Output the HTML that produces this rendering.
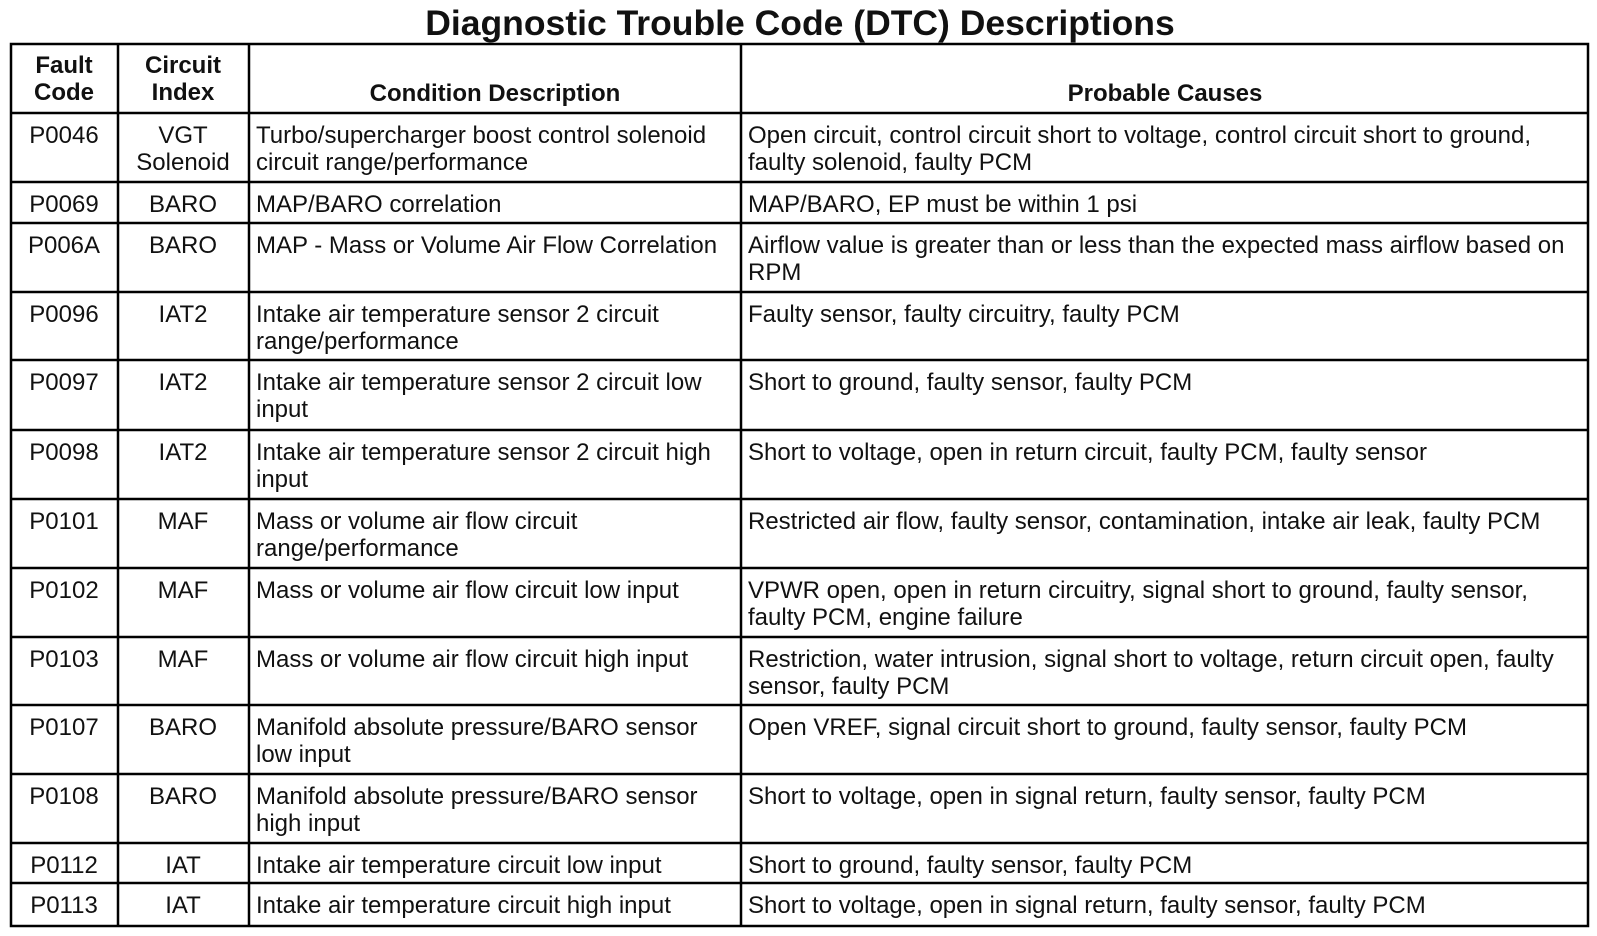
<!DOCTYPE html>
<html><head><meta charset="utf-8"><style>
html,body{margin:0;padding:0;background:#fff;width:1597px;height:936px;overflow:hidden}
svg{display:block}
text{font-family:"Liberation Sans",Arial,sans-serif;fill:#111;font-size:24px}
.b{font-weight:bold}
.c{text-anchor:middle}
</style></head><body>
<svg width="1597" height="936" viewBox="0 0 1597 936">
<text class="b c" x="800" y="35" style="font-size:35.5px">Diagnostic Trouble Code (DTC) Descriptions</text>
<g stroke="#000" stroke-width="2.5" fill="none">
<rect x="11" y="44" width="1577" height="882"/>
<line x1="118" y1="44" x2="118" y2="926"/>
<line x1="249" y1="44" x2="249" y2="926"/>
<line x1="741" y1="44" x2="741" y2="926"/>
<line x1="11" y1="113" x2="1588" y2="113"/>
<line x1="11" y1="182" x2="1588" y2="182"/>
<line x1="11" y1="223" x2="1588" y2="223"/>
<line x1="11" y1="292" x2="1588" y2="292"/>
<line x1="11" y1="360" x2="1588" y2="360"/>
<line x1="11" y1="430" x2="1588" y2="430"/>
<line x1="11" y1="499" x2="1588" y2="499"/>
<line x1="11" y1="568" x2="1588" y2="568"/>
<line x1="11" y1="637" x2="1588" y2="637"/>
<line x1="11" y1="705" x2="1588" y2="705"/>
<line x1="11" y1="774" x2="1588" y2="774"/>
<line x1="11" y1="843" x2="1588" y2="843"/>
<line x1="11" y1="883" x2="1588" y2="883"/>
</g>
<g class="b">
<text class="b c" x="64" y="73">Fault</text><text class="b c" x="64" y="100">Code</text>
<text class="b c" x="183" y="73">Circuit</text><text class="b c" x="183" y="100">Index</text>
<text class="b c" x="495" y="101">Condition Description</text>
<text class="b c" x="1165" y="101">Probable Causes</text>
</g>
<g>
<text class="c" x="64" y="143">P0046</text><text class="c" x="183" y="143">VGT</text><text class="c" x="183" y="170">Solenoid</text>
<text x="256" y="143">Turbo/supercharger boost control solenoid</text><text x="256" y="170">circuit range/performance</text>
<text x="748" y="143">Open circuit, control circuit short to voltage, control circuit short to ground,</text><text x="748" y="170">faulty solenoid, faulty PCM</text>

<text class="c" x="64" y="212">P0069</text><text class="c" x="183" y="212">BARO</text>
<text x="256" y="212">MAP/BARO correlation</text><text x="748" y="212">MAP/BARO, EP must be within 1 psi</text>

<text class="c" x="64" y="253">P006A</text><text class="c" x="183" y="253">BARO</text>
<text x="256" y="253">MAP - Mass or Volume Air Flow Correlation</text>
<text x="748" y="253">Airflow value is greater than or less than the expected mass airflow based on</text><text x="748" y="280">RPM</text>

<text class="c" x="64" y="322">P0096</text><text class="c" x="183" y="322">IAT2</text>
<text x="256" y="322">Intake air temperature sensor 2 circuit</text><text x="256" y="349">range/performance</text>
<text x="748" y="322">Faulty sensor, faulty circuitry, faulty PCM</text>

<text class="c" x="64" y="390">P0097</text><text class="c" x="183" y="390">IAT2</text>
<text x="256" y="390">Intake air temperature sensor 2 circuit low</text><text x="256" y="417">input</text>
<text x="748" y="390">Short to ground, faulty sensor, faulty PCM</text>

<text class="c" x="64" y="460">P0098</text><text class="c" x="183" y="460">IAT2</text>
<text x="256" y="460">Intake air temperature sensor 2 circuit high</text><text x="256" y="487">input</text>
<text x="748" y="460">Short to voltage, open in return circuit, faulty PCM, faulty sensor</text>

<text class="c" x="64" y="529">P0101</text><text class="c" x="183" y="529">MAF</text>
<text x="256" y="529">Mass or volume air flow circuit</text><text x="256" y="556">range/performance</text>
<text x="748" y="529">Restricted air flow, faulty sensor, contamination, intake air leak, faulty PCM</text>

<text class="c" x="64" y="598">P0102</text><text class="c" x="183" y="598">MAF</text>
<text x="256" y="598">Mass or volume air flow circuit low input</text>
<text x="748" y="598">VPWR open, open in return circuitry, signal short to ground, faulty sensor,</text><text x="748" y="625">faulty PCM, engine failure</text>

<text class="c" x="64" y="667">P0103</text><text class="c" x="183" y="667">MAF</text>
<text x="256" y="667">Mass or volume air flow circuit high input</text>
<text x="748" y="667">Restriction, water intrusion, signal short to voltage, return circuit open, faulty</text><text x="748" y="694">sensor, faulty PCM</text>

<text class="c" x="64" y="735">P0107</text><text class="c" x="183" y="735">BARO</text>
<text x="256" y="735">Manifold absolute pressure/BARO sensor</text><text x="256" y="762">low input</text>
<text x="748" y="735">Open VREF, signal circuit short to ground, faulty sensor, faulty PCM</text>

<text class="c" x="64" y="804">P0108</text><text class="c" x="183" y="804">BARO</text>
<text x="256" y="804">Manifold absolute pressure/BARO sensor</text><text x="256" y="831">high input</text>
<text x="748" y="804">Short to voltage, open in signal return, faulty sensor, faulty PCM</text>

<text class="c" x="64" y="873">P0112</text><text class="c" x="183" y="873">IAT</text>
<text x="256" y="873">Intake air temperature circuit low input</text>
<text x="748" y="873">Short to ground, faulty sensor, faulty PCM</text>

<text class="c" x="64" y="913">P0113</text><text class="c" x="183" y="913">IAT</text>
<text x="256" y="913">Intake air temperature circuit high input</text>
<text x="748" y="913">Short to voltage, open in signal return, faulty sensor, faulty PCM</text>
</g>
</svg>
</body></html>
